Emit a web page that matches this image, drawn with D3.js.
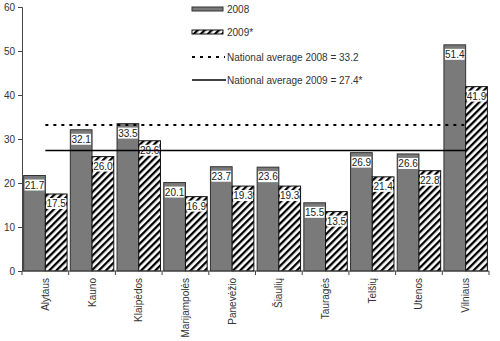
<!DOCTYPE html>
<html><head><meta charset="utf-8">
<script src="https://cdn.jsdelivr.net/npm/d3@7"></script>
<style>body{margin:0;background:#fff}svg{display:block;font-family:"Liberation Sans",Arial,sans-serif}</style>
</head><body>
<svg id="c" width="500" height="341"></svg>
<script>
const categories = ["Alytaus","Kauno","Klaipėdos","Marijampolės","Panevėžio","Šiaulių","Tauragės","Telšių","Utenos","Vilniaus"];
const values2008 = [21.7,32.1,33.5,20.1,23.7,23.6,15.5,26.9,26.6,51.4];
const values2009 = [17.5,26.0,29.6,16.9,19.3,19.3,13.5,21.4,22.8,41.9];
const avg2008 = 33.2, avg2009 = 27.4;
const yTicks = [0,10,20,30,40,50,60];
const legendLabels = ["2008","2009*","National average 2008 = 33.2","National average 2009 = 27.4*"];

const svg = d3.select("#c");
const m = {l:22, r:11, t:7, b:70};
const W = 500, H = 341;
const x = d3.scaleBand().domain(categories).range([m.l, W - m.r]).paddingInner(0).paddingOuter(0);
const inner = d3.scaleBand().domain(["a","b"]).range([0, x.bandwidth()]).paddingOuter(0.075).paddingInner(0);
const y = d3.scaleLinear().domain([0,60]).range([H - m.b, m.t]);

const defs = svg.append("defs");
const pat = defs.append("pattern").attr("id","hatch").attr("patternUnits","userSpaceOnUse")
  .attr("width",5).attr("height",5).attr("patternTransform","rotate(45)");
pat.append("rect").attr("width",5).attr("height",5).attr("fill","#fff");
pat.append("rect").attr("width",2.3).attr("height",5).attr("fill","#000");

// bars
const g = svg.append("g");
categories.forEach((c,i)=>{
  const x0 = x(c);
  [[values2008[i],"a"],[values2009[i],"b"]].forEach(([v,k])=>{
    const bx = x0 + inner(k), bw = inner.bandwidth();
    g.append("rect").attr("x",bx).attr("y",y(v)).attr("width",bw).attr("height",y(0)-y(v))
      .attr("fill", k==="a" ? "#7a7a7a" : "url(#hatch)")
      .attr("stroke", k==="a" ? "#333" : "#111").attr("stroke-width",1);
    const lbl = v.toFixed(1);
    const ty = y(v) + 13;
    g.append("rect").attr("x",bx+1).attr("y",ty-9).attr("width",bw-2).attr("height",11).attr("fill","#fff");
    g.append("text").attr("x",bx+bw/2).attr("y",ty).attr("text-anchor","middle")
      .attr("font-size",10).attr("fill","#222").text(lbl);
  });
});

// average lines
const lx1 = x(categories[0]) + x.bandwidth()/2, lx2 = x(categories[categories.length-1]) + x.bandwidth()/2;
svg.append("line").attr("x1",lx1).attr("x2",lx2).attr("y1",y(avg2008)).attr("y2",y(avg2008))
  .attr("stroke","#000").attr("stroke-width",2).attr("stroke-dasharray","3,5");
svg.append("line").attr("x1",lx1).attr("x2",lx2).attr("y1",y(avg2009)).attr("y2",y(avg2009))
  .attr("stroke","#000").attr("stroke-width",1.5);

// axes
const yAxis = d3.axisLeft(y).tickValues(yTicks).tickSize(4).tickPadding(3);
const ya = svg.append("g").attr("transform",`translate(${m.l},0)`).call(yAxis);
ya.selectAll("text").attr("font-size",10).attr("fill","#333").attr("font-family","Liberation Sans, Arial, sans-serif");
ya.selectAll("line,path").attr("stroke","#444");

const xa = svg.append("g").attr("transform",`translate(0,${y(0)})`);
xa.append("line").attr("x1",m.l).attr("x2",W-m.r).attr("stroke","#444");
const bounds = categories.map(c=>x(c)).concat([W-m.r]);
xa.selectAll("line.t").data(bounds).enter().append("line").attr("class","t")
  .attr("x1",d=>d).attr("x2",d=>d).attr("y1",0).attr("y2",4).attr("stroke","#444");
xa.selectAll("text").data(categories).enter().append("text")
  .attr("transform",d=>`translate(${x(d)+x.bandwidth()/2+3.5},7) rotate(-90)`)
  .attr("text-anchor","end").attr("font-size",10).attr("fill","#333").text(d=>d);

// legend
const lg = svg.append("g");
const lxs = 192, ltx = 227;
lg.append("rect").attr("x",lxs).attr("y",7).attr("width",31).attr("height",4).attr("fill","#7a7a7a").attr("stroke","#333");
lg.append("text").attr("x",ltx).attr("y",13).attr("font-size",10).attr("fill","#333").text(legendLabels[0]);
lg.append("rect").attr("x",lxs).attr("y",30).attr("width",31).attr("height",4).attr("fill","url(#hatch)").attr("stroke","#111");
lg.append("text").attr("x",ltx).attr("y",36).attr("font-size",10).attr("fill","#333").text(legendLabels[1]);
lg.append("line").attr("x1",lxs).attr("x2",lxs+33).attr("y1",57).attr("y2",57).attr("stroke","#000").attr("stroke-width",2).attr("stroke-dasharray","3,5");
lg.append("text").attr("x",ltx).attr("y",60.5).attr("font-size",10).attr("fill","#333").text(legendLabels[2]);
lg.append("line").attr("x1",lxs).attr("x2",lxs+34).attr("y1",80).attr("y2",80).attr("stroke","#000").attr("stroke-width",1.5);
lg.append("text").attr("x",ltx).attr("y",83.5).attr("font-size",10).attr("fill","#333").text(legendLabels[3]);
</script>
</body></html>
